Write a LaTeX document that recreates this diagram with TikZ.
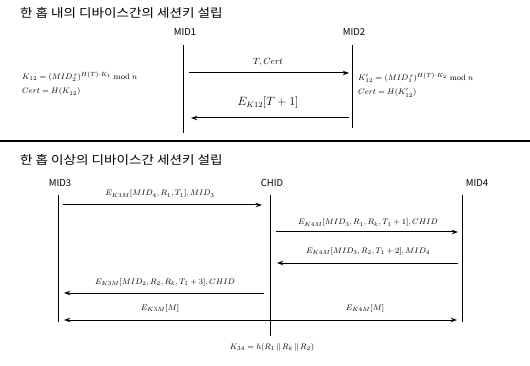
\documentclass[tikz,border=0pt]{standalone}
\usepackage{fontspec}
\usepackage{graphicx}
\newfontfamily\kor{Noto Sans CJK KR}
\usetikzlibrary{arrows.meta,positioning,calc}
\newcommand{\widetitle}[1]{\scalebox{1.13}[1]{#1}}
\tikzset{
  title style/.style={anchor=west, inner sep=0pt, font=\kor\fontsize{12}{14}\selectfont},
  dev style/.style={inner sep=0pt, font=\kor\fontsize{9.5}{11}\selectfont},
  life style/.style={line width=0.9pt},
  msg style/.style={-{Stealth[length=2.2mm,width=1.6mm]}, line width=1pt},
  both style/.style={{Stealth[length=2.2mm,width=1.6mm]}-{Stealth[length=2.2mm,width=1.6mm]}, line width=1pt},
  lbl style/.style={inner sep=0pt, font=\footnotesize},
  eq style/.style={anchor=west, align=left, inner sep=0pt, font=\footnotesize}
}

\begin{document}
\begin{tikzpicture}[x=1pt, y=-1pt]
\useasboundingbox (0,0) rectangle (530,366);
% one hop
\node[title style] (t1) at (20,13) {\widetitle{한 홉 내의 디바이스간의 세션키 설립}};
\node[dev style] (m1) at (185,32) {MID1};
\node[dev style] (m2) at (354,32) {MID2};
\coordinate (l1) at (183,45);
\coordinate (l2) at (352,45);
\draw[life style] (l1) -- (l1 |- 0,133);
\draw[life style] (l2) -- (l2 |- 0,128);
\draw[msg style, shorten <=6pt, shorten >=3pt] (l1 |- 0,73) -- (l2 |- 0,73);
\draw[msg style, shorten <=3pt, shorten >=8pt] (l2 |- 0,118) -- (l1 |- 0,118);
\node[lbl style, font=\small] (c1) at (268,62) {$T, Cert$};
\node[lbl style, font=\large] (c2) at (268,103) {$E_{K12}[T+1]$};
\node[eq style] (k1) at (22,84) {$K_{12} = ({MID}_2^{\,s})^{H(T)\cdot K_1} \bmod n$\\[5pt]$Cert = H(K_{12})$};
\node[eq style] (k2) at (358,85) {$K'_{12} = ({MID}_1^{\,s})^{H(T)\cdot K_2} \bmod n$\\[5pt]$Cert = H(K'_{12})$};
\draw[line width=1.2pt] (0,141) -- (530,141);
% multi hop
\node[title style] (t2) at (20,160) {\widetitle{한 홉 이상의 디바이스간 세션키 설립}};
\node[dev style] (m3) at (60,183) {MID3};
\node[dev style] (ch) at (272,183) {CHID};
\node[dev style] (m4) at (477,183) {MID4};
\coordinate (l3) at (58,195);
\coordinate (lc) at (270,195);
\coordinate (l4) at (462,195);
\draw[life style] (l3) -- (l3 |- 0,322);
\draw[life style] (lc) -- (lc |- 0,336);
\draw[life style] (l4) -- (l4 |- 0,322);
\draw[msg style, shorten <=5pt, shorten >=8pt] (l3 |- 0,205) -- (lc |- 0,205);
\draw[msg style, shorten <=6pt, shorten >=4pt] (lc |- 0,232) -- (l4 |- 0,232);
\draw[msg style, shorten <=4pt, shorten >=7pt] (l4 |- 0,263) -- (lc |- 0,263);
\draw[msg style, shorten <=6pt, shorten >=6pt] (lc |- 0,293) -- (l3 |- 0,293);
\draw[both style, shorten <=6pt, shorten >=5pt] (l3 |- 0,320) -- (l4 |- 0,320);
\node[lbl style] (a1) at (160,194) {$E_{K3M}[MID_4, R_1, T_1], MID_3$};
\node[lbl style] (a2) at (368,223) {$E_{K4M}[MID_3, R_1, R_k, T_1+1], CHID$};
\node[lbl style] (a3) at (368,251) {$E_{K4M}[MID_3, R_2, T_1+2], MID_4$};
\node[lbl style] (a4) at (165,282) {$E_{K3M}[MID_2, R_2, R_k, T_1+3], CHID$};
\node[lbl style] (a5) at (160,308) {$E_{K3M}[M]$};
\node[lbl style] (a6) at (365,308) {$E_{K4M}[M]$};
\node[lbl style] (kk) at (272,347) {$K_{34} = h(R_1 \,\|\, R_k \,\|\, R_2)$};
\end{tikzpicture}
\end{document}
